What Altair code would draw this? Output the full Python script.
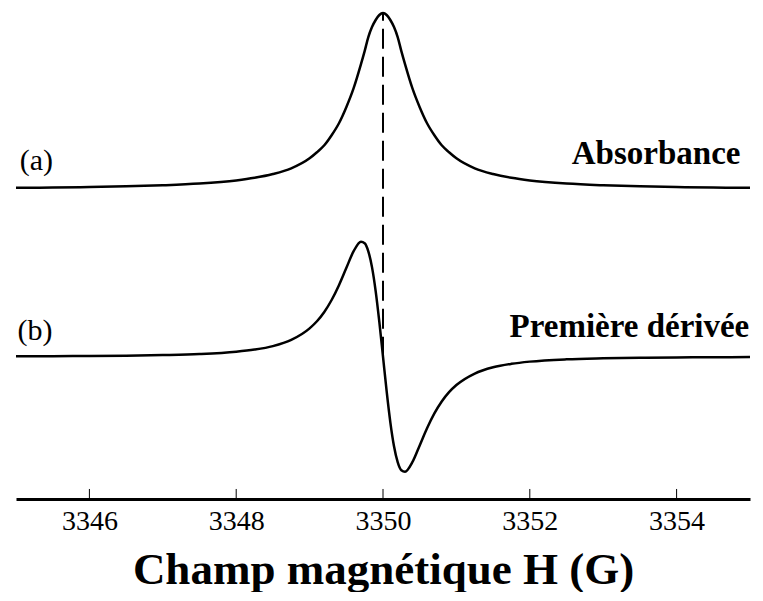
import altair as alt
import pandas as pd

# Field values (G)
field = [3345, 3345.5, 3346, 3346.5, 3347, 3347.5, 3348, 3348.25, 3348.5, 3348.75,
         3349, 3349.1, 3349.2, 3349.3, 3349.4, 3349.5, 3349.6, 3349.7, 3349.75, 3349.8,
         3349.85, 3349.9, 3349.95, 3350,
         3350.05, 3350.1, 3350.15, 3350.2, 3350.25, 3350.3, 3350.4, 3350.5, 3350.6, 3350.7,
         3350.8, 3350.9, 3351, 3351.25, 3351.5, 3351.75, 3352, 3352.5, 3353, 3353.5,
         3354, 3354.5, 3355]

# (a) absorbance (arbitrary vertical units)
absorbance = [313.5, 313.8, 314.3, 315.0, 316.1, 317.8, 320.9, 323.5, 327.3, 333,
              343, 349, 356, 366, 378, 394, 413, 437, 450, 464,
              474, 481, 486, 488,
              486, 481, 474, 464, 450, 437, 413, 394, 378, 366,
              356, 349, 343, 333, 327.3, 323.5, 320.9, 317.8, 316.1, 315.0,
              314.3, 313.8, 313.5]

# (b) first derivative (arbitrary vertical units)
derivative = [145.4, 145.5, 145.7, 146.0, 146.6, 147.6, 149.9, 152.1, 155.6, 161.8,
              173.3, 180.4, 189.7, 201.6, 216.4, 233.5, 250.3, 259.8, 258.3, 250.2,
              234.4, 210.5, 179.7, 145,
              110.3, 79.5, 55.6, 39.8, 31.7, 30.2, 39.7, 56.5, 73.6, 88.4,
              100.3, 109.6, 116.7, 128.2, 134.4, 137.9, 140.1, 142.4, 143.4, 144.0,
              144.3, 144.5, 144.6]

ticks = [3346, 3348, 3350, 3352, 3354]

# annotations
label_text = ["(a)", "Absorbance", "(b)", "Première dérivée"]
label_x = [3345.05, 3354.87, 3345.02, 3354.99]
label_y = [331, 337, 162, 165]

center_field = [3350]
center_bottom = [145]
center_top = [488]

rows = []
for g, a, d in zip(field, absorbance, derivative):
    rows.append({"G": g, "v": a, "s": "a"})
    rows.append({"G": g, "v": d, "s": "b"})
df = pd.DataFrame(rows)

xscale = alt.Scale(domain=[3345, 3355], nice=False, zero=False)
yscale = alt.Scale(domain=[3, 492], nice=False, zero=False)
xaxis = alt.Axis(values=ticks, tickSize=0, domainWidth=3, domainColor="black",
                 grid=False, format="d",
                 labelFont="Liberation Sans Narrow", labelFontSize=28,
                 labelColor="black", labelPadding=8,
                 title="Champ magnétique H (G)", titleFont="Liberation Serif",
                 titleFontWeight="bold", titleFontSize=45, titleColor="black",
                 titlePadding=12)


def X(field_name):
    return alt.X(field_name, scale=xscale, axis=xaxis, title="Champ magnétique H (G)")


def Y(field_name):
    return alt.Y(field_name, scale=yscale, axis=None)


lines = alt.Chart(df).mark_line(color="black", strokeWidth=2.5, interpolate="monotone").encode(
    x=X("G:Q"), y=Y("v:Q"), detail="s:N"
)

tick_df = pd.DataFrame({"G": ticks, "y0": [3] * len(ticks), "y1": [13] * len(ticks)})
tick_marks = alt.Chart(tick_df).mark_rule(color="black", strokeWidth=1).encode(
    x=X("G:Q"), y=Y("y0:Q"), y2="y1:Q"
)

center_df = pd.DataFrame({"G": center_field, "y0": center_bottom, "y1": center_top})
center = alt.Chart(center_df).mark_rule(color="black", strokeWidth=2, strokeDash=[20, 8]).encode(
    x=X("G:Q"), y=Y("y0:Q"), y2="y1:Q"
)

left_df = pd.DataFrame({"t": [label_text[0], label_text[2]],
                        "G": [label_x[0], label_x[2]],
                        "y": [label_y[0], label_y[2]]})
right_df = pd.DataFrame({"t": [label_text[1], label_text[3]],
                         "G": [label_x[1], label_x[3]],
                         "y": [label_y[1], label_y[3]]})
left_labels = alt.Chart(left_df).mark_text(
    align="left", baseline="alphabetic", font="Liberation Serif", fontSize=30, color="black"
).encode(x=X("G:Q"), y=Y("y:Q"), text="t:N")
right_labels = alt.Chart(right_df).mark_text(
    align="right", baseline="alphabetic", font="Liberation Serif", fontSize=33,
    fontWeight="bold", color="black"
).encode(x=X("G:Q"), y=Y("y:Q"), text="t:N")

chart = alt.layer(center, lines, tick_marks, left_labels, right_labels).properties(
    width=747, height=584,
    autosize=alt.AutoSizeParams(type="fit", contains="padding"),
    padding={"left": 3, "top": 0, "right": 0, "bottom": 0},
    background="white",
).configure_view(strokeWidth=0)

chart.save("out.html", embed_options={"renderer": "svg", "actions": False})
